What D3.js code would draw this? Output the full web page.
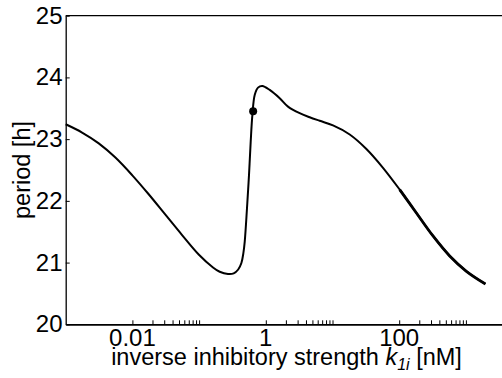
<!DOCTYPE html>
<html>
<head>
<meta charset="utf-8">
<script src="https://cdn.jsdelivr.net/npm/d3@7"></script>
<style>
  body { margin: 0; background: #fff; }
  svg { display: block; font-family: "Liberation Sans", Arial, sans-serif; }
  .tick-label { font-size: 24px; fill: #000; }
  .axis-label { font-size: 23.5px; fill: #000; }
</style>
</head>
<body>
<div id="wrapper"></div>
<script>
// data: k1i [nM] vs period [h]
const kValues = [0.001, 0.00176, 0.00313, 0.00556, 0.0099, 0.01755, 0.03125, 0.0556, 0.0986, 0.1616,
  0.2036, 0.2713, 0.3302, 0.3857, 0.4306, 0.4615, 0.4828, 0.5224, 0.5598, 0.5937,
  0.6294, 0.6818, 0.764, 0.8892, 1.144, 1.616, 2.152, 3.223, 4.551, 6.43,
  10.17, 18.11, 32.22, 57.18, 101.7, 181.1, 321.2, 571.7, 1017, 1961]
const periodValues = [23.241, 23.107, 22.932, 22.702, 22.418, 22.107, 21.776, 21.446, 21.131, 20.921,
  20.851, 20.815, 20.825, 20.888, 20.994, 21.156, 21.334, 21.88, 22.42, 22.959,
  23.392, 23.716, 23.835, 23.862, 23.797, 23.663, 23.527, 23.42, 23.355, 23.297,
  23.222, 23.076, 22.841, 22.536, 22.183, 21.804, 21.431, 21.107, 20.859, 20.653]
const markerPoint = { k: 0.646, period: 23.45 }

const xTickLabels = [0.01, 1, 100]
const xMinorDecades = [0.01, 1, 100]
const yTicks = [20, 21, 22, 23, 24, 25]

const dataset = kValues.map((k, i) => ({ k, period: periodValues[i] }))
const xAccessor = d => d.k
const yAccessor = d => d.period

// dimensions
const width = 502
const height = 378
const margin = { top: 15.7, left: 65.7 }
const decade = 66.7
const plotBottom = 324.3

const svg = d3.select("#wrapper").append("svg")
    .attr("width", width)
    .attr("height", height)

const xScale = d3.scaleLog()
  .domain([0.001, 10000])
  .range([margin.left, margin.left + 7 * decade])

const yScale = d3.scaleLinear()
  .domain([20, 25])
  .range([plotBottom, margin.top])

// curve
const lineGenerator = d3.line()
  .x(d => xScale(xAccessor(d)))
  .y(d => yScale(yAccessor(d)))
  .curve(d3.curveCatmullRom.alpha(0.5))

svg.append("path")
    .attr("d", lineGenerator(dataset))
    .attr("fill", "none")
    .attr("stroke", "#000")
    .attr("stroke-width", 2)

// the tail of the curve is drawn heavier in the original
svg.append("path")
    .attr("d", lineGenerator(dataset.filter(d => d.k >= 100)))
    .attr("fill", "none")
    .attr("stroke", "#000")
    .attr("stroke-width", 2.8)

svg.append("circle")
    .attr("cx", xScale(markerPoint.k))
    .attr("cy", yScale(markerPoint.period))
    .attr("r", 4)
    .attr("fill", "#000")

// axes
const xAxis = d3.axisBottom(xScale)
  .tickValues(xMinorDecades.flatMap(d => d3.range(1, 11).map(m => d * m)))
  .tickSizeInner(-4)
  .tickSizeOuter(0)
  .tickFormat("")

svg.append("g")
    .attr("transform", `translate(0, ${plotBottom})`)
    .call(xAxis)
    .call(g => g.select(".domain").attr("stroke-width", 1.7))
    .call(g => g.selectAll(".tick line").attr("stroke-width", 1))

const yAxis = d3.axisLeft(yScale)
  .tickValues(yTicks)
  .tickSizeInner(-4)
  .tickSizeOuter(0)
  .tickFormat("")

svg.append("g")
    .attr("transform", `translate(${margin.left}, 0)`)
    .call(yAxis)
    .call(g => g.select(".domain").attr("stroke-width", 1.3))

// top frame line
svg.append("line")
    .attr("x1", margin.left)
    .attr("x2", width)
    .attr("y1", margin.top)
    .attr("y2", margin.top)
    .attr("stroke", "#000")
    .attr("stroke-width", 1.3)

// tick labels
svg.selectAll(".y-label")
  .data(yTicks)
  .enter().append("text")
    .attr("class", "tick-label")
    .attr("x", 62.5)
    .attr("y", d => yScale(d) + 8)
    .attr("text-anchor", "end")
    .text(d => d)

svg.selectAll(".x-label")
  .data(xTickLabels)
  .enter().append("text")
    .attr("class", "tick-label")
    .attr("x", d => xScale(d))
    .attr("y", 346)
    .attr("text-anchor", "middle")
    .text(d => d)

// axis titles
svg.append("text")
    .attr("class", "axis-label")
    .attr("transform", "translate(30, 170) rotate(-90)")
    .attr("text-anchor", "middle")
    .text("period [h]")

const xTitle = svg.append("text")
    .attr("class", "axis-label")
    .attr("x", 286.5)
    .attr("y", 365)
    .attr("text-anchor", "middle")
xTitle.append("tspan").text("inverse inhibitory strength ")
xTitle.append("tspan").attr("font-style", "italic").text("k")
xTitle.append("tspan").attr("font-style", "italic").attr("font-size", "16px").attr("dy", 5).text("1i")
xTitle.append("tspan").attr("dy", -5).text(" [nM]")
</script>
</body>
</html>
